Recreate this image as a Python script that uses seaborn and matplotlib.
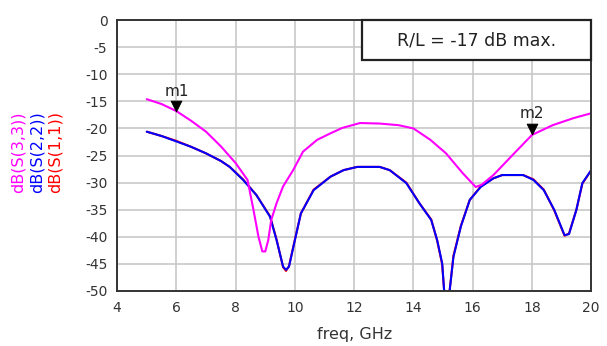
import matplotlib
matplotlib.use("Agg")
import matplotlib.pyplot as plt
from matplotlib.patches import Rectangle
import seaborn as sns

# S-parameter curves (freq in GHz, magnitude in dB)
freq_s33 = [5, 5.5, 6, 6.5, 7, 7.5, 8, 8.4, 8.6, 8.77, 8.9, 9.0, 9.1, 9.2, 9.38, 9.6,
            9.94, 10.27, 10.75, 11.2, 11.6, 12.2, 12.86, 13.5, 14.0, 14.57, 15.1,
            15.67, 16.1, 16.3, 16.7, 17.4, 18.0, 18.7, 19.4, 20]
s33 = [-14.6, -15.5, -16.8, -18.6, -20.6, -23.3, -26.4, -29.5, -35.0, -40.0, -42.7,
       -42.7, -40.6, -36.9, -33.8, -30.7, -27.7, -24.3, -22.1, -20.9, -19.9, -19.0,
       -19.1, -19.4, -20.0, -22.1, -24.6, -28.3, -30.8, -30.4, -28.6, -24.6, -21.2,
       -19.4, -18.1, -17.2]

freq_s22 = [5, 5.5, 6, 6.5, 7, 7.5, 7.8, 8.25, 8.7, 9.16, 9.38, 9.6, 9.7, 9.8, 9.95,
            10.2, 10.63, 11.2, 11.64, 12.1, 12.86, 13.2, 13.76, 14.2, 14.6, 14.8,
            14.97, 15.05, 15.2, 15.35, 15.6, 15.9, 16.27, 16.7, 17.0, 17.7, 18.05,
            18.4, 18.75, 19.1, 19.25, 19.5, 19.7, 20]
s22 = [-20.6, -21.4, -22.4, -23.4, -24.6, -26.0, -27.1, -29.5, -32.3, -36.3, -40.6,
       -45.5, -46.1, -45.5, -41.8, -35.7, -31.4, -28.9, -27.7, -27.1, -27.1, -27.7,
       -30.1, -33.8, -36.9, -40.6, -44.9, -51.0, -51.0, -43.7, -38.1, -33.2, -30.8,
       -29.2, -28.6, -28.6, -29.5, -31.4, -35.0, -39.7, -39.5, -35.0, -30.1, -27.7]

freq_s11 = freq_s22
s11 = [-20.6, -21.4, -22.3, -23.4, -24.6, -26.0, -27.1, -29.4, -32.3, -36.2, -40.5,
       -45.6, -46.3, -45.4, -41.7, -35.7, -31.3, -28.9, -27.7, -27.1, -27.1, -27.7,
       -30.0, -33.8, -36.8, -40.7, -45.1, -51.0, -51.0, -43.5, -38.0, -33.2, -30.7,
       -29.2, -28.6, -28.6, -29.4, -31.3, -35.1, -39.8, -39.4, -35.0, -30.2, -27.7]

markers = ["m1", "m2"]
marker_freq = [6, 18]
marker_db = [-17.0, -21.2]

sns.set_style("white")
plt.rcParams['font.family'] = ['DejaVu Sans']
plt.rcParams['axes.unicode_minus'] = False

fig = plt.figure(figsize=(6.07, 3.46), dpi=100)
ax = fig.add_axes([0.193, 0.159, 0.781, 0.783])

sns.lineplot(x=freq_s11, y=s11, color="#ff0000", lw=1.5, ax=ax)
sns.lineplot(x=freq_s22, y=s22, color="#0000ff", lw=1.5, ax=ax)
sns.lineplot(x=freq_s33, y=s33, color="#ff00ff", lw=1.5, ax=ax)

# markers
sns.scatterplot(x=marker_freq, y=[d + 1.1 for d in marker_db], marker="v", s=60,
                color="black", edgecolor="black", ax=ax, zorder=5)
for name, f, d in zip(markers, marker_freq, marker_db):
    ax.text(f, d + 2.5, name, ha="center", va="bottom", fontsize=11, color="#222222")

ax.set_xlim(4, 20)
ax.set_ylim(-50, 0)
ax.set_xticks(range(4, 21, 2))
ax.set_xticks(range(5, 20, 2), minor=True)
ax.set_yticks(range(-50, 1, 5))
ax.grid(True, which="major", color="#c8c8c8", lw=1.2)
ax.tick_params(axis="both", which="major", direction="out", length=5, width=1.2,
               color="#333333", labelsize=10, labelcolor="#333333", pad=2)
ax.tick_params(axis="x", which="minor", direction="out", length=3, width=1.2,
               color="#333333")
for sp in ax.spines.values():
    sp.set_color("#333333")
    sp.set_linewidth(1.4)

ax.set_xlabel("freq, GHz", fontsize=11.5, color="#333333", labelpad=9)

# colored y-axis labels
for xpos, txt, col in [(0.030, "dB(S(3,3))", "#ff00ff"),
                       (0.061, "dB(S(2,2))", "#0000ff"),
                       (0.091, "dB(S(1,1))", "#ff0000")]:
    fig.text(xpos, 0.56, txt, rotation=90, color=col, fontsize=11.5,
             ha="center", va="center")

# annotation box in the upper right corner
ax.add_patch(Rectangle((0.517, 0.852), 0.483, 0.148, transform=ax.transAxes,
                       fc="white", ec="#222222", lw=1.6, zorder=6, clip_on=False))
ax.text(0.758, 0.926, "R/L = -17 dB max.", transform=ax.transAxes, ha="center",
        va="center", fontsize=12.5, color="#222222", zorder=7)

fig.savefig("out.png", dpi=100)
